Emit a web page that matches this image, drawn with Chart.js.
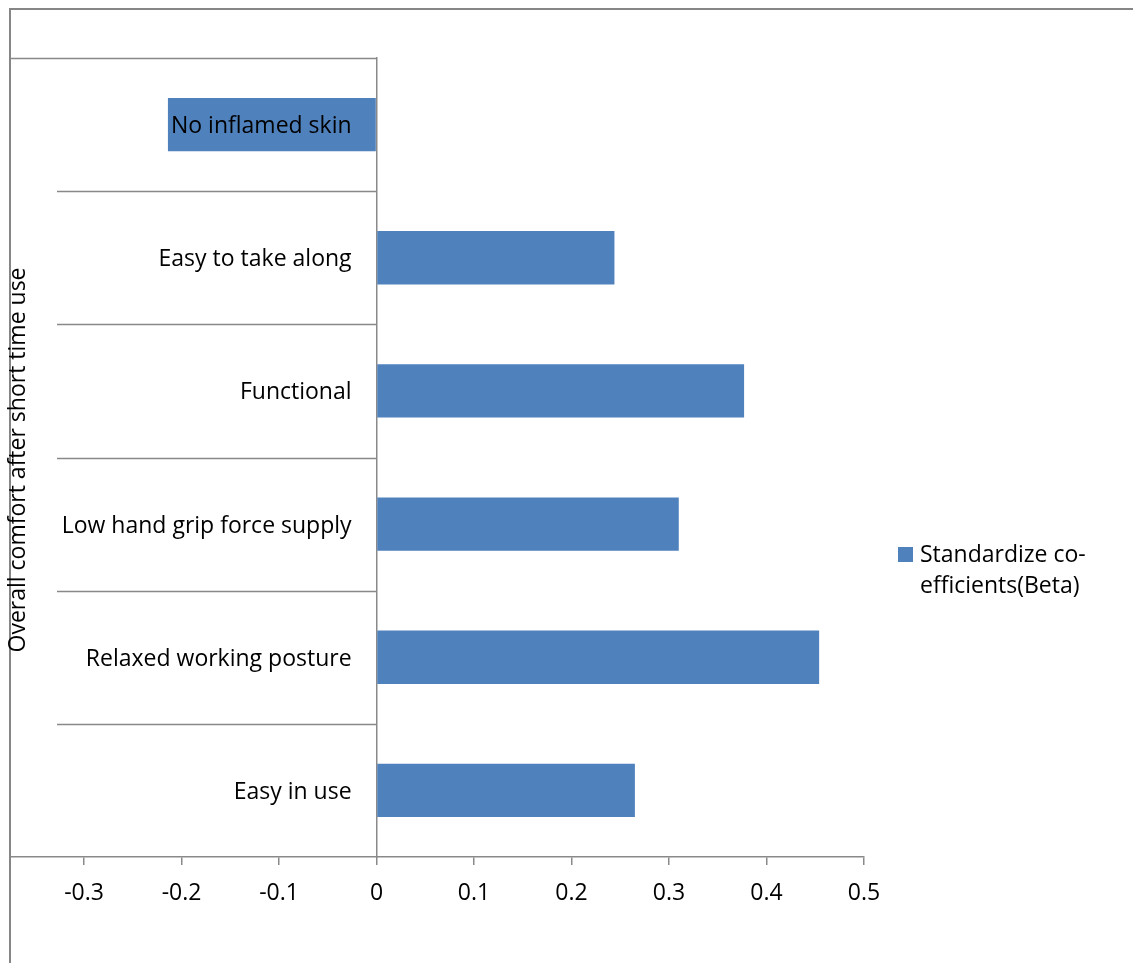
<!DOCTYPE html>
<html>
<head>
<meta charset="utf-8">
<script src="https://cdn.jsdelivr.net/npm/chart.js@4"></script>
<style>
  body { margin: 0; background: #fff; }
</style>
</head>
<body>
<canvas id="myChart" width="1133" height="963"></canvas>
<script>
// values
const categories = ["No inflamed skin", "Easy to take along", "Functional", "Low hand grip force supply", "Relaxed working posture", "Easy in use"];
const betaValues = [-0.214, 0.244, 0.377, 0.310, 0.454, 0.265];
const xTicks = [-0.3, -0.2, -0.1, 0, 0.1, 0.2, 0.3, 0.4, 0.5];
const seriesName = "Standardize co-efficients(Beta)";
const legendLines = ["Standardize co-", "efficients(Beta)"];
const yTitle = "Overall comfort after short time use";

const FONT = "'Open Sans', sans-serif";
const SIZE = 23;
const LINE = "#898989";
const BLUE = "#4F81BD";

// border of the chart, separators, category labels, y title and legend
const extras = {
    id: "extras",
    afterDraw(chart) {
        const ctx = chart.ctx;
        const area = chart.chartArea;
        const y = chart.scales.y;
        const x = chart.scales.x;
        ctx.save();
        ctx.strokeStyle = "#868686";
        ctx.lineWidth = 2;
        ctx.beginPath();
        ctx.moveTo(area.left, chart.height);
        ctx.lineTo(area.left, 9);
        ctx.lineTo(chart.width, 9);
        ctx.stroke();

        const band = y.getPixelForValue(1) - y.getPixelForValue(0);
        const zero = x.getPixelForValue(0);
        ctx.strokeStyle = LINE;
        ctx.lineWidth = 1.5;
        for (let i = 0; i < categories.length; i++) {
            const py = Math.round(y.getPixelForValue(i) - band / 2) + 0.5;
            ctx.beginPath();
            ctx.moveTo(i === 0 ? area.left : area.left + 47, py);
            ctx.lineTo(zero, py);
            ctx.stroke();
        }

        // category labels sit next to the zero line
        ctx.fillStyle = "#000";
        ctx.font = SIZE + "px " + FONT;
        ctx.textAlign = "right";
        ctx.textBaseline = "middle";
        chart.data.labels.forEach((lab, i) => {
            ctx.fillText(lab, zero - 25, y.getPixelForValue(i) + 2);
        });

        ctx.textAlign = "center";
        ctx.translate(18, 460);
        ctx.rotate(-Math.PI / 2);
        ctx.fillText(yTitle, 0, 0);
        ctx.restore();

        ctx.save();
        const lx = area.right + 34;
        ctx.fillStyle = BLUE;
        ctx.fillRect(lx, 547, 15, 15);
        ctx.fillStyle = "#000";
        ctx.font = SIZE + "px " + FONT;
        ctx.textAlign = "left";
        ctx.textBaseline = "middle";
        for (let i = 0; i < legendLines.length; i++) {
            ctx.fillText(legendLines[i], lx + 22, 555 + i * 31);
        }
        ctx.restore();
    }
};

const chart = new Chart(document.getElementById("myChart"), {
    type: "bar",
    data: {
        labels: categories,
        datasets: [{
            label: seriesName,
            data: betaValues,
            backgroundColor: BLUE,
            borderWidth: 0,
            barPercentage: 0.4,
            categoryPercentage: 1
        }]
    },
    options: {
        indexAxis: "y",
        responsive: false,
        animation: false,
        layout: { padding: { left: 10, top: 58, right: 269, bottom: 0 } },
        plugins: {
            legend: { display: false },
            tooltip: { enabled: false }
        },
        scales: {
            x: {
                type: "linear",
                min: -0.376,
                max: 0.5,
                bounds: "data",
                afterBuildTicks: (scale) => {
                    scale.ticks = xTicks.map(v => ({ value: v }));
                },
                afterFit: (scale) => { scale.height = 106; },
                grid: { drawOnChartArea: false, drawTicks: true, tickLength: 8, color: LINE, lineWidth: 1.5 },
                border: { color: LINE, width: 1.5 },
                ticks: {
                    color: "#000",
                    font: { family: FONT, size: SIZE },
                    padding: 15,
                    maxRotation: 0,
                    autoSkip: false,
                    callback: (v) => String(v)
                }
            },
            y: {
                position: { x: 0 },
                grid: { drawOnChartArea: false, drawTicks: false },
                border: { color: LINE, width: 1.5 },
                ticks: { display: false }
            }
        }
    },
    plugins: [extras]
});
</script>
</body>
</html>
